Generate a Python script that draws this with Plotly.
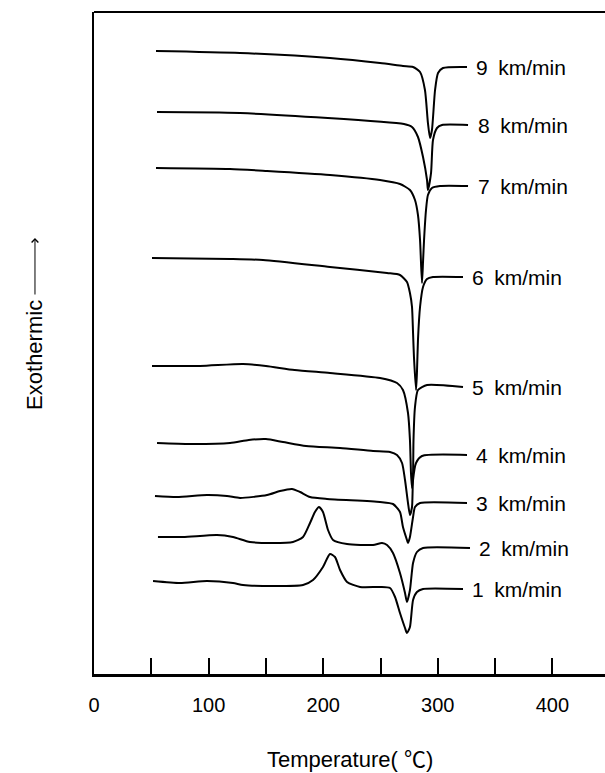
import plotly.graph_objects as go

# DSC traces recorded at nine spinning speeds (km/min).
# Temperature in degrees C, heat flow in arbitrary units (traces are offset).
speeds = [9, 8, 7, 6, 5, 4, 3, 2, 1]

temp_9 = [54.1, 127.4, 205.9, 249.6, 269.6, 278.4, 284.5, 288.8, 291.4, 293.2, 294.9, 297.6, 300.2, 304.5, 325.5]
flow_9 = [623, 621, 616, 611, 608, 607, 602, 584, 551, 536, 544, 584, 601, 606, 607]

temp_8 = [55.0, 127.4, 270.5, 277.5, 282.7, 287.1, 290.6, 291.4, 294.1, 295.8, 299.3, 303.7, 326.4]
flow_8 = [562, 561, 550, 547, 537, 517, 494, 484, 501, 534, 546, 549, 549]

temp_7 = [54.1, 118.7, 151.0, 205.9, 249.6, 267.0, 275.7, 280.1, 282.7, 284.5, 286.2, 287.1, 288.0, 289.7, 291.4, 294.9, 301.9, 326.4]
flow_7 = [506, 505, 503, 499, 494, 490, 484, 474, 459, 434, 391, 412, 434, 464, 479, 486, 488, 488]

temp_6 = [50.6, 118.7, 147.5, 205.9, 255.7, 267.0, 273.1, 275.7, 277.5, 278.4, 279.2, 281.0, 281.8, 282.7, 284.5, 287.1, 290.6, 295.8, 322.0]
flow_6 = [416, 415, 414, 407, 401, 399, 392, 381, 367, 341, 317, 284, 301, 334, 367, 387, 395, 397, 397]

temp_5 = [50.6, 92.5, 130.0, 150.0, 175.0, 205.9, 249.6, 264.4, 269.6, 274.0, 275.7, 276.6, 277.5, 278.4, 278.8, 280.1, 282.7, 290.6, 322.0]
flow_5 = [308, 308, 310, 308, 304, 301, 296, 291, 284, 261, 234, 201, 186, 201, 234, 267, 284, 289, 287]

temp_4 = [55.0, 83.8, 118.7, 135.0, 150.0, 165.0, 185.0, 214.7, 243.5, 258.3, 264.4, 268.8, 271.4, 274.0, 275.7, 277.5, 278.4, 281.0, 286.2, 325.5]
flow_4 = [231, 230, 231, 234, 235, 232, 228, 226, 223, 222, 219, 211, 194, 171, 159, 167, 194, 211, 218, 219]

temp_3 = [53.2, 72.4, 98.6, 116.1, 127.4, 151.0, 162.3, 172.8, 179.8, 188.5, 203.3, 249.6, 260.9, 267.0, 269.6, 273.1, 274.0, 275.7, 278.4, 280.1, 284.5, 325.5]
flow_3 = [178, 177, 179, 178, 176, 179, 183, 185, 182, 177, 175, 172, 170, 162, 147, 134, 131, 137, 157, 167, 171, 171]

temp_2 = [55.8, 77.7, 107.3, 121.3, 136.1, 156.2, 173.6, 182.4, 188.5, 192.8, 196.3, 199.8, 204.2, 208.6, 220.8, 243.5, 251.3, 255.7, 260.9, 267.0, 271.4, 273.1, 275.7, 278.4, 281.8, 287.1, 328.1]
flow_2 = [137, 137, 139, 137, 132, 131, 132, 137, 151, 162, 167, 162, 144, 134, 130, 129, 131, 129, 121, 101, 81, 72, 84, 111, 122, 126, 126]

temp_1 = [51.5, 75.0, 98.6, 121.3, 130.0, 156.2, 182.4, 191.1, 199.8, 205.9, 210.3, 214.7, 220.8, 232.1, 249.6, 258.3, 262.7, 267.0, 271.4, 273.1, 275.7, 278.4, 281.8, 287.1, 322.0]
flow_1 = [93, 91, 93, 91, 89, 88, 89, 94, 107, 120, 117, 104, 92, 87, 87, 86, 77, 61, 46, 41, 47, 74, 82, 85, 85]

x_ticks = [0, 50, 100, 150, 200, 250, 300, 350, 400]
x_tick_text = ["0", "", "100", "", "200", "", "300", "", "400"]

traces = {
    9: (temp_9, flow_9), 8: (temp_8, flow_8), 7: (temp_7, flow_7),
    6: (temp_6, flow_6), 5: (temp_5, flow_5), 4: (temp_4, flow_4),
    3: (temp_3, flow_3), 2: (temp_2, flow_2), 1: (temp_1, flow_1),
}

FONT = "Liberation Sans, Arial, Helvetica, sans-serif"

fig = go.Figure()
annotations = []
for s in speeds:
    t, h = traces[s]
    fig.add_trace(go.Scatter(
        x=t, y=h, mode="lines",
        line=dict(color="black", width=2, shape="spline", smoothing=0.6),
        showlegend=False, hoverinfo="skip",
    ))
    annotations.append(dict(
        x=t[-1] + 6.5, y=h[-1], xref="x", yref="y",
        text=f"{s}\u2002km/min", showarrow=False,
        xanchor="left", yanchor="middle",
        font=dict(family=FONT, size=21, color="black"),
    ))

# axis titles
annotations.append(dict(
    x=0.5, y=-0.1254, xref="paper", yref="paper",
    text="Temperature( <span style='font-family:Noto Sans CJK JP'>\u2103</span>)",
    showarrow=False, xanchor="center", yanchor="middle",
    font=dict(family=FONT, size=22, color="black"),
))
annotations.append(dict(
    x=-0.1155, y=0.482, xref="paper", yref="paper",
    text="Exothermic", showarrow=False, textangle=-90,
    xanchor="center", yanchor="middle",
    font=dict(family=FONT, size=22, color="black"),
))
# upward arrow continuing the y title
annotations.append(dict(
    x=-0.1155, y=0.6586, xref="paper", yref="paper",
    text="", showarrow=True, ax=0, ay=58,
    arrowhead=4, arrowsize=1.3, arrowwidth=1, arrowcolor="black", standoff=0,
))

fig.update_layout(
    width=605, height=773,
    margin=dict(l=94, r=0, t=12, b=99),
    paper_bgcolor="white", plot_bgcolor="white",
    annotations=annotations,
    shapes=[dict(type="line", xref="paper", yref="paper", x0=0, x1=1, y0=1, y1=1,
                 line=dict(color="black", width=2))],
)
fig.update_xaxes(
    range=[0, 445.9], tickvals=x_ticks, ticktext=x_tick_text,
    ticks="inside", ticklen=16, tickwidth=2, tickcolor="black",
    showline=True, linecolor="black", linewidth=2.5,
    showgrid=False, zeroline=False, ticklabelstandoff=11,
    tickfont=dict(family=FONT, size=20, color="black"),
)
fig.update_yaxes(
    range=[0, 662], showticklabels=False, ticks="",
    showline=True, linecolor="black", linewidth=2,
    showgrid=False, zeroline=False,
)

fig.write_html("out.html")
